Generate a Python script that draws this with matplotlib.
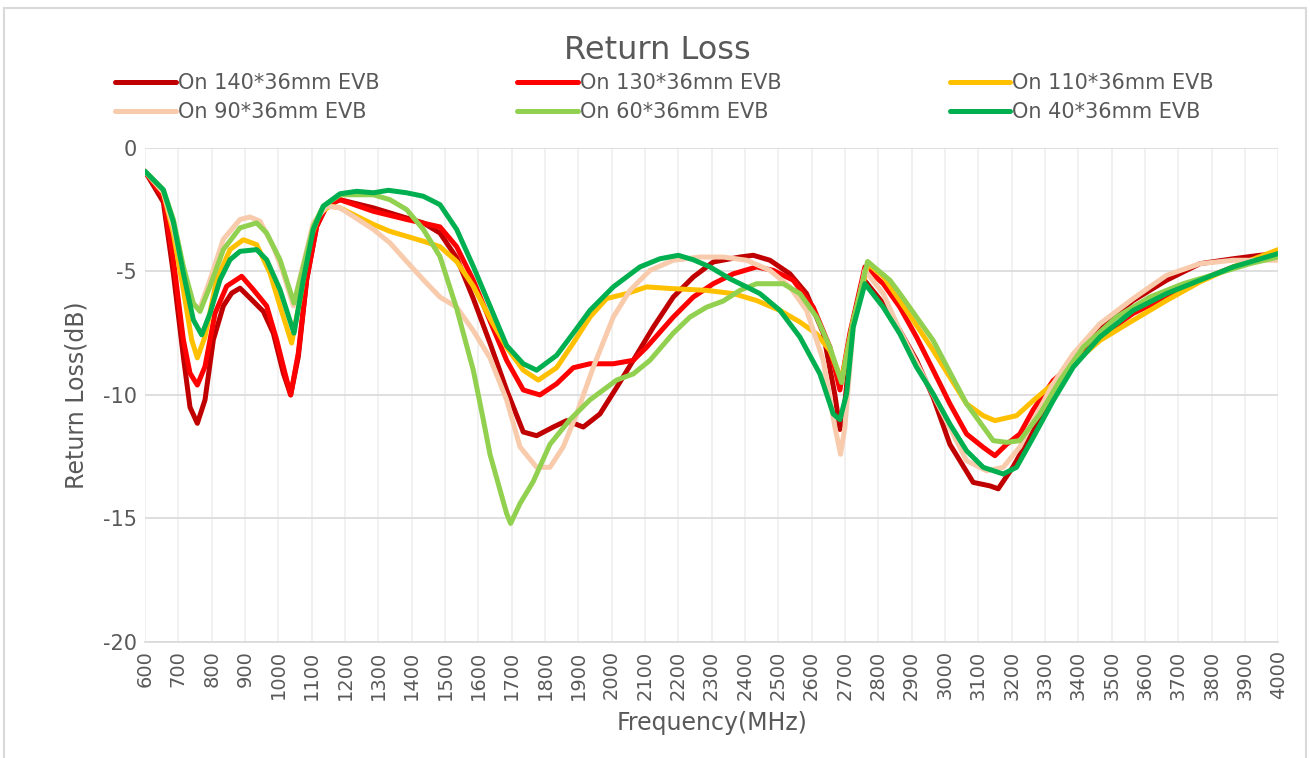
import matplotlib
matplotlib.use("Agg")
import matplotlib.pyplot as plt
from matplotlib.patches import Rectangle

# ---- data (MHz, dB) ----
f_140 = [600, 655, 685, 715, 735, 757, 780, 805, 835, 860, 885, 915, 955, 985, 1015, 1037, 1060, 1085,
         1115, 1145, 1185, 1285, 1385, 1435, 1485, 1535, 1585, 1635, 1685, 1735, 1775, 1825, 1865, 1915,
         1965, 2015, 2065, 2125, 2185, 2245, 2305, 2385, 2425, 2475, 2535, 2585, 2635, 2670, 2685, 2700,
         2725, 2755, 2815, 2865, 2915, 2965, 3015, 3085, 3135, 3160, 3205, 3265, 3325, 3385, 3465, 3565,
         3665, 3765, 3865, 3945, 4000]
rl_140 = [-0.95, -2.2, -5.07, -8.45, -10.5, -11.15, -10.2, -7.77, -6.4, -5.88, -5.68, -6.08, -6.62, -7.5,
          -9.12, -10.0, -8.45, -5.34, -3.18, -2.36, -2.1, -2.43, -2.84, -3.04, -3.45, -4.45, -6.1, -7.9,
          -9.8, -11.5, -11.65, -11.3, -11.04, -11.3, -10.77, -9.7, -8.6, -7.26, -6.04, -5.23, -4.62, -4.42,
          -4.35, -4.55, -5.1, -5.9, -7.5, -10.0, -11.4, -10.3, -7.0, -5.3, -6.3, -7.4, -8.6, -10.1, -12.0,
          -13.54, -13.68, -13.8, -12.9, -11.45, -9.82, -8.6, -7.26, -6.18, -5.36, -4.69, -4.49, -4.35, -4.28]

f_130 = [600, 655, 685, 715, 735, 757, 780, 810, 845, 890, 925, 965, 995, 1020, 1037, 1060, 1085, 1115,
         1145, 1185, 1285, 1385, 1485, 1535, 1585, 1635, 1685, 1735, 1785, 1835, 1885, 1935, 2005, 2065,
         2105, 2185, 2245, 2305, 2365, 2435, 2485, 2545, 2605, 2655, 2685, 2715, 2760, 2815, 2865, 2915,
         2965, 3015, 3065, 3115, 3150, 3185, 3225, 3265, 3325, 3385, 3465, 3565, 3665, 3765, 3865, 4000]
rl_130 = [-0.95, -2.0, -4.53, -7.77, -9.12, -9.6, -8.85, -6.7, -5.6, -5.2, -5.74, -6.4, -7.77, -9.12,
          -10.0, -8.3, -5.34, -3.18, -2.3, -2.1, -2.57, -2.9, -3.2, -4.0, -5.36, -7.0, -8.6, -9.8, -10.0,
          -9.55, -8.9, -8.74, -8.74, -8.6, -8.07, -6.85, -6.04, -5.5, -5.1, -4.82, -4.96, -5.36, -6.45,
          -8.07, -9.8, -7.5, -4.82, -5.5, -6.45, -7.66, -9.0, -10.36, -11.58, -12.12, -12.46, -12.0, -11.58,
          -10.6, -9.42, -8.74, -7.66, -6.7, -6.04, -5.36, -4.82, -4.35]

f_110 = [600, 655, 685, 715, 740, 757, 780, 815, 855, 895, 935, 975, 1005, 1040, 1065, 1095, 1125, 1155,
         1185, 1285, 1335, 1385, 1435, 1485, 1535, 1585, 1635, 1685, 1735, 1780, 1835, 1885, 1935, 1985,
         2045, 2105, 2185, 2285, 2365, 2435, 2505, 2565, 2615, 2655, 2690, 2725, 2770, 2815, 2865, 2965,
         3065, 3115, 3150, 3215, 3265, 3325, 3385, 3465, 3565, 3665, 3765, 3865, 4000]
rl_110 = [-0.95, -1.8, -3.45, -5.74, -7.77, -8.5, -7.64, -5.34, -4.12, -3.72, -3.92, -5.07, -6.4, -7.9,
          -6.15, -3.72, -2.63, -2.36, -2.43, -3.1, -3.38, -3.58, -3.78, -4.0, -4.6, -5.6, -6.9, -8.07, -9.0,
          -9.4, -8.9, -7.9, -6.85, -6.1, -5.9, -5.63, -5.7, -5.77, -5.9, -6.18, -6.58, -7.05, -7.53, -8.2,
          -9.4, -7.0, -4.7, -5.2, -6.18, -8.2, -10.36, -10.84, -11.04, -10.84, -10.23, -9.55, -8.74, -7.8,
          -6.98, -6.18, -5.43, -4.82, -4.12]

f_90 = [600, 655, 685, 715, 745, 763, 795, 835, 885, 915, 945, 985, 1015, 1045, 1075, 1105, 1145, 1185,
        1285, 1335, 1385, 1435, 1485, 1535, 1585, 1635, 1685, 1725, 1775, 1815, 1855, 1895, 1945, 2005,
        2055, 2115, 2185, 2265, 2335, 2405, 2475, 2535, 2585, 2635, 2670, 2687, 2700, 2725, 2760, 2815,
        2865, 2965, 3065, 3125, 3175, 3225, 3265, 3325, 3385, 3465, 3565, 3665, 3765, 3865, 4000]
rl_90 = [-0.95, -1.8, -3.2, -5.0, -6.3, -6.55, -5.34, -3.7, -2.9, -2.8, -2.97, -4.0, -5.07, -6.4, -4.7,
         -3.04, -2.36, -2.43, -3.3, -3.85, -4.6, -5.34, -6.04, -6.45, -7.4, -8.5, -10.2, -12.1, -12.93,
         -12.93, -12.1, -10.77, -8.88, -6.85, -5.77, -4.96, -4.55, -4.42, -4.42, -4.55, -4.96, -5.63, -6.58,
         -8.6, -11.3, -12.4, -11.3, -7.26, -4.96, -5.9, -7.4, -10.0, -12.66, -13.07, -12.93, -12.1, -11.04,
         -9.55, -8.34, -7.12, -6.1, -5.16, -4.69, -4.55, -4.55]

f_60 = [600, 655, 685, 715, 745, 765, 795, 835, 885, 935, 965, 1005, 1047, 1075, 1105, 1135, 1185, 1285,
        1335, 1385, 1435, 1485, 1535, 1585, 1615, 1635, 1685, 1697, 1725, 1765, 1815, 1875, 1935, 2015,
        2065, 2115, 2185, 2235, 2285, 2335, 2385, 2435, 2515, 2565, 2615, 2655, 2690, 2725, 2768, 2835,
        2865, 2965, 3065, 3145, 3185, 3225, 3285, 3345, 3415, 3515, 3615, 3715, 3815, 3915, 4000]
rl_60 = [-0.95, -1.7, -2.9, -4.8, -6.3, -6.62, -5.6, -4.12, -3.24, -3.04, -3.45, -4.53, -6.28, -4.8,
         -3.18, -2.36, -1.9, -1.9, -2.1, -2.5, -3.3, -4.4, -6.5, -9.0, -11.0, -12.4, -14.8, -15.2, -14.4,
         -13.5, -12.0, -11.0, -10.2, -9.4, -9.15, -8.6, -7.5, -6.85, -6.45, -6.2, -5.77, -5.5, -5.5, -5.9,
         -6.85, -8.07, -9.5, -7.0, -4.6, -5.36, -5.9, -7.8, -10.36, -11.85, -11.92, -11.85, -10.77, -9.42,
         -8.07, -6.85, -6.04, -5.5, -5.1, -4.69, -4.42]

f_40 = [600, 655, 685, 715, 745, 770, 795, 825, 855, 885, 935, 965, 1005, 1047, 1075, 1105, 1135, 1185,
        1235, 1285, 1330, 1385, 1435, 1485, 1535, 1585, 1635, 1685, 1735, 1775, 1835, 1885, 1935, 2005,
        2085, 2145, 2200, 2245, 2295, 2355, 2405, 2445, 2505, 2565, 2625, 2665, 2685, 2705, 2725, 2760,
        2815, 2865, 2915, 2965, 3015, 3065, 3115, 3175, 3215, 3265, 3325, 3385, 3465, 3565, 3665, 3765,
        3865, 4000]
rl_40 = [-0.95, -1.7, -3.0, -5.07, -6.96, -7.57, -6.7, -5.34, -4.53, -4.19, -4.12, -4.53, -5.74, -7.5,
         -5.34, -3.3, -2.36, -1.86, -1.76, -1.82, -1.72, -1.82, -1.96, -2.3, -3.3, -4.8, -6.4, -8.0, -8.74,
         -9.0, -8.4, -7.5, -6.58, -5.63, -4.82, -4.49, -4.35, -4.53, -4.82, -5.3, -5.63, -5.9, -6.58, -7.66,
         -9.15, -10.77, -11.0, -9.96, -7.26, -5.5, -6.45, -7.53, -8.88, -9.96, -11.18, -12.26, -12.93, -13.2,
         -12.93, -11.72, -10.23, -8.88, -7.66, -6.58, -5.9, -5.36, -4.82, -4.28]

labels = ["On 140*36mm EVB", "On 130*36mm EVB", "On 110*36mm EVB",
          "On 90*36mm EVB", "On 60*36mm EVB", "On 40*36mm EVB"]
colors = ["#C00000", "#FF0000", "#FFC000", "#F8CBAD", "#92D050", "#00B050"]
series = [(f_140, rl_140), (f_130, rl_130), (f_110, rl_110),
          (f_90, rl_90), (f_60, rl_60), (f_40, rl_40)]

x_ticks = list(range(600, 4001, 100))
y_ticks = [0, -5, -10, -15, -20]

plt.rcParams["font.family"] = ["DejaVu Sans"]
plt.rcParams["axes.unicode_minus"] = False
txt = "#595959"

fig = plt.figure(figsize=(13.1, 7.58), dpi=100)
fig.patches.append(Rectangle((0.003, -0.01), 0.994, 1.0, transform=fig.transFigure,
                             fill=False, edgecolor="#d9d9d9", lw=1.5))
ax = fig.add_axes([0.1107, 0.153, 0.865, 0.652])

lines = []
for (f, rl), c, lab in zip(series, colors, labels):
    ln, = ax.plot(f, rl, color=c, lw=3.6, label=lab, solid_joinstyle="round",
                  solid_capstyle="round")
    lines.append(ln)

ax.set_xlim(600, 4000)
ax.set_ylim(-20, 0)
ax.set_xticks(x_ticks)
ax.set_xticklabels([str(v) for v in x_ticks], rotation=90, fontsize=14, color=txt)
ax.set_yticks(y_ticks)
ax.set_yticklabels([str(v) for v in y_ticks], fontsize=15, color=txt)
ax.tick_params(length=0, pad=6)
ax.grid(axis="y", color="#d9d9d9", lw=1.2)
ax.grid(axis="x", color="#efefef", lw=1.2)
ax.set_axisbelow(True)
for s in ["top", "right", "left"]:
    ax.spines[s].set_visible(False)
ax.spines["bottom"].set_color("#d9d9d9")
ax.spines["bottom"].set_linewidth(1.2)

ax.set_xlabel("Frequency(MHz)", fontsize=17, color=txt, labelpad=8)
ax.set_ylabel("Return Loss(dB)", fontsize=17, color=txt, labelpad=10)

fig.text(0.502, 0.933, "Return Loss", ha="center", va="center", fontsize=23, color=txt)

# legend: three columns placed like the reference, row-wise order
col_x = [0.088, 0.395, 0.725]
for k, x0 in enumerate(col_x):
    idx = [k, k + 3]
    fig.legend([lines[i] for i in idx], [labels[i] for i in idx],
               loc="center left", bbox_to_anchor=(x0, 0.871), frameon=False,
               fontsize=15, labelcolor=txt, handlelength=2.9, handletextpad=0.1,
               labelspacing=0.45, borderpad=0, borderaxespad=0)

fig.savefig("out.png", dpi=100)
